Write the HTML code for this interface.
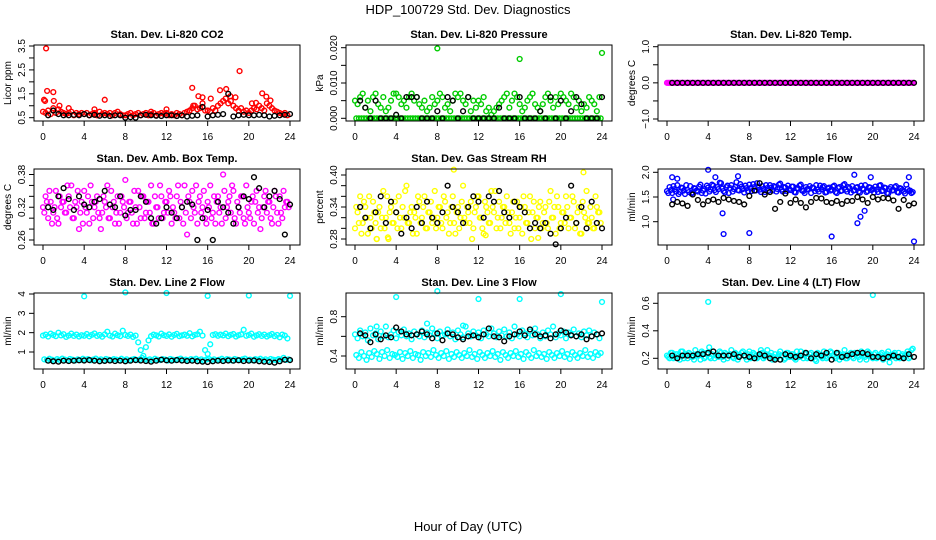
<!DOCTYPE html>
<html><head><meta charset="utf-8"><style>
html,body{margin:0;padding:0;background:#fff;}
svg{display:block;font-family:"Liberation Sans",Arial,sans-serif;}
</style></head><body>
<svg id="chart" width="936" height="540" viewBox="0 0 936 540" xmlns="http://www.w3.org/2000/svg">
<rect width="936" height="540" fill="#fff"/>
<text x="468" y="14" text-anchor="middle" font-size="13">HDP_100729  Std. Dev. Diagnostics</text>
<text x="468" y="531" text-anchor="middle" font-size="13">Hour of Day (UTC)</text>
</svg>
<script>
// ---------- data ----------
const xTicks=[0,4,8,12,16,20,24];
const co2Red=[0.75,0.7,0.8,0.65,0.9,0.7,0.85,0.75,0.7,0.65,0.7,0.75,0.6,0.7,0.65,0.7,0.65,0.7,0.6,0.65,0.7,0.6,0.75,0.65,0.7,0.65,0.7,0.6,0.7,0.75,0.65,0.6,0.6,0.65,0.7,0.6,0.65,0.7,0.6,0.65,0.7,0.6,0.65,0.7,0.6,0.65,0.7,0.65,0.7,0.6,0.65,0.6,0.7,0.65,0.6,0.7,0.75,0.8,0.9,1.0,0.85,0.9,1.1,0.8,0.8,0.75,0.9,0.8,1.0,1.1,1.2,1.3,1.1,1.2,1.0,0.9,0.8,0.9,0.75,0.8,0.7,0.8,0.9,0.85,1.0,0.9,0.8,1.1,1.0,0.9,0.8,0.75,0.7,0.65,0.7,0.6];
const co2ExtraHours=[0.3,0.1,0.2,0.4,1.0,1.05,6,14.5,14.6,15.1,15.5,16.3,17.2,17.8,18.2,18.7,19.1,20.3,20.7,21.3,21.7,22.1,5,10.5,12,2.5,1.6];
const co2ExtraValues=[3.4,1.25,1.2,1.62,1.57,1.2,1.25,1.75,1.0,1.4,1.35,1.3,1.65,1.7,1.4,1.35,2.45,1.1,1.12,1.52,1.38,1.22,0.85,0.75,0.85,0.9,1.0];
const co2Black=[0.6,0.8,0.65,0.6,0.6,0.62,0.6,0.65,0.6,0.62,0.58,0.6,0.57,0.6,0.6,0.5,0.52,0.5,0.6,0.62,0.6,0.58,0.57,0.6,0.6,0.57,0.6,0.55,0.58,0.6,0.95,0.55,0.6,0.62,0.65,1.5,0.55,0.6,0.62,0.6,0.6,0.62,0.6,0.55,0.58,0.6,0.62,0.65];

const presGreen=[0.005,0.004,0.006,0.007,0.003,0.005,0.002,0.006,0.007,0.004,0.003,0.006,0.002,0.003,0.005,0.007,0.007,0.006,0.004,0.005,0.003,0.006,0.007,0.005,0.006,0.004,0.003,0.005,0.002,0.003,0.006,0.004,0.005,0.007,0.006,0.003,0.004,0.002,0.005,0.007,0.006,0.007,0.005,0.004,0.006,0.002,0.005,0.003,0.005,0.004,0.006,0.002,0.003,0.001,0.002,0.003,0.004,0.005,0.006,0.007,0.003,0.005,0.007,0.006,0.004,0.002,0.003,0.005,0.006,0.007,0.004,0.003,0.002,0.004,0.006,0.007,0.005,0.003,0.006,0.004,0.007,0.006,0.005,0.004,0.007,0.006,0.003,0.005,0.002,0.004,0.003,0.006,0.005,0.004,0.002,0.006];
const presGreenLow=[0,0,0,0,0,0,0,0,0,0,0,0,0,0,0,0,0,0,0,0,0,0,0,0,0,0,0,0,0,0,0,0,0,0,0,0,0,0,0,0,0,0,0,0,0,0,0,0,0,0,0,0,0,0,0,0,0,0,0,0,0,0,0,0,0,0,0,0,0,0,0,0,0,0,0,0,0,0,0,0,0,0,0,0,0,0,0,0,0,0,0,0,0,0,0,0];
const presExtraHours=[8,16,24];
const presExtraValues=[0.0198,0.0168,0.0185];
const presBlack=[0.005,0.003,0,0.005,0,0,0,0.001,0,0.006,0.006,0.006,0,0,0,0.002,0,0.006,0.005,0,0.002,0.006,0,0,0,0,0,0.003,0,0,0,0.006,0,0,0,0.002,0,0.006,0,0.005,0,0.002,0.006,0.004,0,0,0,0.006];

const tempMagenta=[0,0,0,0,0,0,0,0,0,0,0,0,0,0,0,0,0,0,0,0,0,0,0,0,0,0,0,0,0,0,0,0,0,0,0,0,0,0,0,0,0,0,0,0,0,0,0,0,0,0,0,0,0,0,0,0,0,0,0,0,0,0,0,0,0,0,0,0,0,0,0,0,0,0,0,0,0,0,0,0,0,0,0,0,0,0,0,0,0,0,0,0,0,0,0,0];
const tempBlack=[0,0,0,0,0,0,0,0,0,0,0,0,0,0,0,0,0,0,0,0,0,0,0,0,0,0,0,0,0,0,0,0,0,0,0,0,0,0,0,0,0,0,0,0,0,0,0,0];

const ambA=[0.32,0.34,0.30,0.33,0.31,0.35,0.29,0.32,0.33,0.31,0.34,0.36,0.30,0.32,0.28,0.33,0.35,0.31,0.29,0.33,0.32,0.34,0.30,0.31,0.33,0.36,0.30,0.32,0.29,0.34,0.31,0.33,0.37,0.31,0.33,0.29,0.32,0.35,0.30,0.34,0.31,0.33,0.36,0.29,0.32,0.30,0.34,0.31,0.33,0.35,0.29,0.31,0.34,0.30,0.32,0.36,0.27,0.33,0.35,0.31,0.29,0.34,0.32,0.30,0.33,0.36,0.31,0.29,0.34,0.32,0.38,0.30,0.33,0.31,0.35,0.29,0.32,0.34,0.30,0.36,0.31,0.33,0.29,0.35,0.32,0.30,0.34,0.31,0.33,0.29,0.35,0.31,0.34,0.30,0.32,0.33];
const ambB=[0.31,0.33,0.35,0.29,0.32,0.30,0.34,0.33,0.31,0.36,0.32,0.30,0.33,0.35,0.31,0.29,0.32,0.34,0.36,0.30,0.33,0.31,0.28,0.34,0.32,0.30,0.35,0.33,0.31,0.29,0.34,0.32,0.30,0.33,0.31,0.35,0.29,0.32,0.34,0.30,0.33,0.31,0.29,0.34,0.32,0.36,0.30,0.33,0.31,0.34,0.32,0.30,0.36,0.33,0.29,0.31,0.34,0.30,0.32,0.36,0.33,0.31,0.35,0.29,0.32,0.30,0.34,0.33,0.31,0.29,0.35,0.32,0.34,0.36,0.30,0.33,0.31,0.34,0.29,0.32,0.30,0.34,0.33,0.31,0.28,0.32,0.35,0.33,0.30,0.32,0.34,0.29,0.31,0.35,0.33,0.32];
const ambBlack=[0.32,0.315,0.34,0.355,0.335,0.315,0.34,0.325,0.32,0.33,0.335,0.35,0.325,0.32,0.34,0.305,0.315,0.315,0.34,0.33,0.30,0.29,0.30,0.32,0.31,0.30,0.32,0.33,0.325,0.26,0.30,0.315,0.26,0.33,0.32,0.31,0.29,0.32,0.34,0.335,0.375,0.355,0.32,0.34,0.35,0.335,0.27,0.325];

const rhA=[0.30,0.33,0.36,0.31,0.34,0.29,0.32,0.35,0.31,0.33,0.30,0.37,0.32,0.28,0.34,0.31,0.33,0.36,0.30,0.32,0.38,0.31,0.34,0.33,0.29,0.35,0.32,0.36,0.30,0.33,0.31,0.37,0.32,0.34,0.30,0.35,0.33,0.31,0.36,0.29,0.34,0.32,0.38,0.31,0.33,0.35,0.30,0.34,0.36,0.32,0.29,0.34,0.31,0.37,0.33,0.30,0.35,0.32,0.34,0.36,0.31,0.33,0.30,0.35,0.32,0.29,0.34,0.31,0.36,0.33,0.30,0.32,0.35,0.31,0.34,0.30,0.37,0.32,0.29,0.34,0.31,0.33,0.36,0.30,0.32,0.35,0.31,0.34,0.29,0.33,0.37,0.31,0.32,0.30,0.34,0.33];
const rhB=[0.34,0.31,0.29,0.35,0.32,0.36,0.30,0.33,0.28,0.34,0.32,0.30,0.36,0.33,0.31,0.35,0.30,0.32,0.34,0.37,0.31,0.33,0.29,0.32,0.36,0.31,0.34,0.30,0.33,0.35,0.32,0.30,0.34,0.31,0.36,0.32,0.29,0.34,0.31,0.33,0.30,0.35,0.32,0.34,0.31,0.28,0.33,0.36,0.32,0.30,0.35,0.33,0.31,0.34,0.37,0.32,0.30,0.34,0.31,0.33,0.29,0.35,0.32,0.30,0.34,0.36,0.31,0.33,0.28,0.35,0.32,0.34,0.30,0.33,0.31,0.35,0.32,0.34,0.36,0.30,0.33,0.31,0.34,0.32,0.36,0.30,0.33,0.29,0.35,0.32,0.31,0.34,0.30,0.36,0.33,0.31];
const rhExtraHours=[9.6,22.2,2.1,3.2,17.8,12.7];
const rhExtraValues=[0.41,0.405,0.28,0.283,0.282,0.287];
const rhBlack=[0.34,0.32,0.30,0.33,0.36,0.31,0.35,0.33,0.29,0.32,0.30,0.34,0.31,0.35,0.32,0.31,0.33,0.38,0.34,0.33,0.31,0.34,0.36,0.35,0.32,0.36,0.35,0.37,0.33,0.32,0.35,0.34,0.33,0.30,0.31,0.30,0.31,0.29,0.27,0.30,0.32,0.38,0.31,0.34,0.30,0.35,0.31,0.30];

const flowA=[1.62,1.70,1.58,1.66,1.74,1.60,1.68,1.56,1.64,1.72,1.59,1.67,1.61,1.75,1.63,1.57,1.69,1.65,1.73,1.60,1.66,1.78,1.62,1.70,1.58,1.74,1.66,1.80,1.63,1.71,1.59,1.68,1.75,1.62,1.70,1.78,1.65,1.72,1.60,1.68,1.74,1.63,1.70,1.66,1.77,1.61,1.69,1.73,1.64,1.71,1.59,1.67,1.75,1.62,1.70,1.66,1.58,1.68,1.74,1.61,1.66,1.72,1.60,1.69,1.65,1.73,1.58,1.70,1.63,1.76,1.61,1.68,1.72,1.64,1.70,1.59,1.67,1.74,1.62,1.69,1.66,1.71,1.60,1.74,1.63,1.68,1.57,1.70,1.64,1.72,1.59,1.67,1.61,1.75,1.62,1.58];
const flowB=[1.58,1.64,1.72,1.61,1.56,1.69,1.63,1.74,1.60,1.57,1.68,1.63,1.71,1.58,1.66,1.73,1.61,1.75,1.64,1.70,1.79,1.67,1.59,1.73,1.68,1.61,1.70,1.64,1.76,1.66,1.73,1.62,1.68,1.76,1.63,1.71,1.60,1.66,1.74,1.63,1.69,1.72,1.61,1.75,1.65,1.70,1.62,1.66,1.71,1.60,1.68,1.73,1.63,1.58,1.66,1.72,1.69,1.62,1.65,1.73,1.70,1.59,1.67,1.63,1.71,1.60,1.68,1.62,1.74,1.65,1.70,1.59,1.63,1.69,1.61,1.73,1.66,1.60,1.70,1.64,1.59,1.65,1.73,1.62,1.69,1.58,1.66,1.63,1.70,1.60,1.68,1.64,1.57,1.66,1.63,1.60];
const flowExtraHours=[4,5.5,5.4,8,16,18.5,18.8,19.2,24,0.5,4.7,18.2,19.8,23.5,6.9,0.6,1.0];
const flowExtraValues=[2.05,0.75,1.17,0.77,0.7,0.97,1.1,1.22,0.6,1.9,1.9,1.95,1.9,1.9,1.92,1.45,1.87];
const flowBlack=[1.35,1.40,1.37,1.32,1.55,1.44,1.35,1.42,1.45,1.40,1.48,1.45,1.42,1.40,1.35,1.52,1.63,1.78,1.55,1.60,1.26,1.40,1.57,1.38,1.45,1.38,1.29,1.40,1.48,1.47,1.40,1.38,1.42,1.36,1.42,1.42,1.50,1.45,1.38,1.50,1.45,1.48,1.47,1.43,1.26,1.44,1.33,1.37];

const l2Upper=[1.85,1.90,1.80,1.95,1.88,1.82,2.00,1.86,1.92,1.78,1.85,1.95,1.83,1.90,1.80,1.87,1.84,1.93,1.81,1.89,1.96,1.83,1.88,1.79,1.91,2.05,1.85,1.80,1.95,1.87,1.82,2.10,1.88,1.83,1.90,1.78,1.85,1.50,1.10,0.80,1.25,1.60,1.82,1.90,1.86,1.80,1.95,1.87,1.83,1.91,1.79,1.88,1.94,1.82,1.86,1.90,1.84,1.97,1.81,1.88,1.92,2.05,1.85,1.10,0.90,1.40,1.88,1.92,1.84,1.90,1.86,1.95,1.82,1.89,1.93,1.80,1.87,1.91,2.15,1.84,1.88,1.95,1.79,1.86,1.92,1.83,1.90,1.80,1.87,1.93,1.82,1.88,1.76,1.90,1.85,1.70];
const l2Lower=[0.62,0.58,0.65,0.60,0.55,0.63,0.59,0.66,0.61,0.57,0.64,0.60,0.56,0.62,0.58,0.65,0.60,0.63,0.57,0.61,0.66,0.59,0.62,0.56,0.64,0.60,0.58,0.63,0.61,0.57,0.65,0.59,0.62,0.56,0.60,0.64,0.58,0.61,0.70,0.63,0.59,0.62,0.57,0.65,0.60,0.58,0.63,0.61,0.56,0.64,0.60,0.58,0.62,0.66,0.59,0.61,0.57,0.63,0.60,0.65,0.58,0.62,0.56,0.61,0.64,0.59,0.62,0.57,0.60,0.65,0.58,0.63,0.61,0.56,0.64,0.60,0.58,0.62,0.66,0.59,0.61,0.57,0.63,0.60,0.65,0.58,0.62,0.56,0.64,0.60,0.58,0.63,0.61,0.70,0.59,0.62];
const l2ExtraHours=[4,8,12,16,20,24];
const l2ExtraValues=[3.88,4.08,4.05,3.9,3.92,3.9];
const l2Black=[0.55,0.52,0.50,0.55,0.53,0.55,0.57,0.56,0.58,0.55,0.52,0.54,0.56,0.53,0.55,0.52,0.55,0.58,0.56,0.53,0.50,0.55,0.60,0.57,0.55,0.58,0.56,0.53,0.55,0.52,0.50,0.48,0.52,0.55,0.53,0.56,0.55,0.57,0.53,0.55,0.56,0.52,0.50,0.48,0.45,0.52,0.60,0.58];

const l3Upper=[0.62,0.58,0.66,0.60,0.64,0.56,0.68,0.61,0.63,0.57,0.65,0.60,0.70,0.59,0.62,0.66,0.58,0.64,0.61,0.67,0.60,0.63,0.57,0.65,0.62,0.60,0.66,0.59,0.64,0.61,0.68,0.63,0.58,0.65,0.61,0.62,0.67,0.60,0.64,0.57,0.66,0.62,0.59,0.70,0.63,0.60,0.65,0.61,0.64,0.58,0.66,0.62,0.60,0.68,0.63,0.59,0.65,0.61,0.67,0.60,0.64,0.58,0.70,0.62,0.60,0.66,0.63,0.59,0.65,0.61,0.68,0.62,0.58,0.64,0.60,0.66,0.62,0.70,0.59,0.63,0.61,0.65,0.58,0.64,0.62,0.67,0.60,0.63,0.59,0.65,0.61,0.66,0.60,0.64,0.62,0.58];
const l3Lower=[0.41,0.38,0.44,0.40,0.36,0.43,0.39,0.45,0.42,0.37,0.44,0.40,0.46,0.38,0.42,0.41,0.39,0.44,0.37,0.43,0.40,0.45,0.38,0.42,0.41,0.36,0.44,0.40,0.43,0.39,0.46,0.41,0.38,0.43,0.40,0.45,0.37,0.42,0.39,0.44,0.41,0.38,0.43,0.40,0.46,0.39,0.42,0.37,0.44,0.41,0.38,0.43,0.40,0.45,0.39,0.42,0.36,0.44,0.41,0.38,0.43,0.40,0.45,0.39,0.42,0.37,0.44,0.41,0.38,0.46,0.40,0.43,0.39,0.42,0.37,0.44,0.41,0.38,0.43,0.40,0.45,0.39,0.42,0.37,0.44,0.41,0.38,0.43,0.40,0.46,0.39,0.42,0.38,0.44,0.41,0.43];
const l3ExtraHours=[4,8,12,16,20,24,7,2.1,10.5];
const l3ExtraValues=[1.0,1.06,0.98,0.98,1.03,0.95,0.73,0.70,0.71];
const l3Black=[0.63,0.61,0.54,0.62,0.57,0.61,0.59,0.69,0.65,0.62,0.61,0.62,0.65,0.62,0.58,0.63,0.56,0.63,0.62,0.59,0.57,0.60,0.61,0.59,0.62,0.68,0.60,0.59,0.55,0.60,0.62,0.65,0.61,0.67,0.62,0.60,0.61,0.58,0.62,0.66,0.64,0.61,0.60,0.62,0.57,0.60,0.62,0.63];

const l4A=[0.22,0.20,0.24,0.21,0.23,0.19,0.25,0.22,0.20,0.23,0.21,0.26,0.22,0.19,0.24,0.21,0.23,0.20,0.25,0.22,0.21,0.24,0.19,0.23,0.22,0.26,0.20,0.23,0.21,0.24,0.22,0.19,0.25,0.21,0.23,0.20,0.22,0.24,0.21,0.26,0.22,0.19,0.23,0.21,0.25,0.22,0.20,0.24,0.21,0.23,0.19,0.22,0.25,0.20,0.23,0.21,0.24,0.22,0.18,0.23,0.21,0.25,0.20,0.22,0.24,0.21,0.23,0.19,0.22,0.26,0.20,0.23,0.21,0.24,0.22,0.19,0.23,0.21,0.25,0.22,0.20,0.24,0.21,0.23,0.19,0.22,0.25,0.21,0.23,0.20,0.24,0.22,0.21,0.23,0.20,0.26];
const l4B=[0.21,0.24,0.20,0.23,0.22,0.25,0.20,0.23,0.24,0.21,0.19,0.23,0.22,0.25,0.20,0.24,0.21,0.23,0.20,0.22,0.25,0.21,0.24,0.20,0.23,0.21,0.24,0.19,0.22,0.25,0.21,0.23,0.20,0.24,0.22,0.21,0.26,0.20,0.23,0.22,0.24,0.21,0.20,0.23,0.22,0.19,0.24,0.21,0.23,0.20,0.25,0.21,0.22,0.24,0.20,0.23,0.21,0.19,0.24,0.22,0.20,0.23,0.21,0.25,0.22,0.20,0.24,0.21,0.23,0.20,0.22,0.24,0.20,0.23,0.21,0.25,0.22,0.19,0.24,0.21,0.23,0.20,0.22,0.24,0.21,0.23,0.17,0.22,0.24,0.21,0.20,0.23,0.22,0.25,0.21,0.27];
const l4ExtraHours=[4,12,20,4.1];
const l4ExtraValues=[0.61,0.69,0.66,0.28];
const l4Black=[0.22,0.20,0.22,0.22,0.22,0.23,0.23,0.24,0.25,0.22,0.22,0.22,0.23,0.21,0.22,0.21,0.20,0.23,0.22,0.20,0.19,0.19,0.23,0.22,0.21,0.22,0.24,0.20,0.23,0.22,0.24,0.19,0.24,0.21,0.22,0.23,0.24,0.24,0.23,0.21,0.21,0.20,0.21,0.22,0.21,0.20,0.23,0.21];

// tick arrays
const co2Ticks=[0.5,1.0,1.5,2.0,2.5,3.0,3.5], co2Labels=["0.5","1.5","2.5","3.5"];
const presTicks=[0,0.005,0.01,0.015,0.02], presLabels=["0.000","0.010","0.020"];
const tempTicks=[-1,-0.5,0,0.5,1], tempLabels=["-1.0","0.0","1.0"];
const ambTicks=[0.26,0.28,0.30,0.32,0.34,0.36,0.38], ambLabels=["0.26","0.32","0.38"];
const rhTicks=[0.28,0.30,0.32,0.34,0.36,0.38,0.40], rhLabels=["0.28","0.34","0.40"];
const flowTicks=[1.0,1.5,2.0], flowLabels=["1.0","1.5","2.0"];
const l2Ticks=[1,2,3,4], l2Labels=["1","2","3","4"];
const l3Ticks=[0.4,0.6,0.8], l3Labels=["0.4","0.8"];
const l4Ticks=[0.2,0.4,0.6], l4Labels=["0.2","0.4","0.6"];

// ---------- drawing ----------
const NS="http://www.w3.org/2000/svg";
const svg=document.getElementById('chart');
function mk(tag,attrs,parent){const e=document.createElementNS(NS,tag);for(const k in attrs)e.setAttribute(k,attrs[k]);(parent||svg).appendChild(e);return e;}
const colLeft=[34,346,658], rowTop=[45,169,293], W=266, H=76;

function panel(o){
  const L=colLeft[o.col], T=rowTop[o.row], B=T+H;
  const g=mk('g',{});
  
  
  const xs=h=>L+9+h*(247/24);
  const ys=v=>o.p0+(v-o.v0)*(o.p1-o.p0)/(o.v1-o.v0);
  const t=mk('text',{x:L+W/2,y:T-7,'text-anchor':'middle','font-size':'11','font-weight':'bold'},g);
  t.textContent=o.title;
  
  
  // x axis
  const xa=mk('g',{},g);
  
  
  mk('line',{x1:xs(xTicks[0]),x2:xs(xTicks[xTicks.length-1]),y1:B,y2:B,stroke:'#000'},xa);
  xTicks.forEach(v=>{
    mk('line',{x1:xs(v),x2:xs(v),y1:B,y2:B+5,stroke:'#000'},xa);
    const tl=mk('text',{x:xs(v),y:B+19,'text-anchor':'middle','font-size':'10'},xa);
    tl.textContent=v;
  });
  // y axis
  const ya=mk('g',{},g);
  
  
  o.ticks.forEach(v=>{mk('line',{x1:L-5,x2:L,y1:ys(v),y2:ys(v),stroke:'#000'},ya);});
  o.labels.forEach(s=>{
    const yy=ys(parseFloat(s));
    const tl=mk('text',{x:L-9,y:yy,'text-anchor':'middle','font-size':'10',transform:`rotate(-90 ${L-9} ${yy})`},ya);
    tl.textContent=s.replace('-','\u2212');
  });
  const yt=mk('text',{x:L-23,y:(T+B)/2,'text-anchor':'middle','font-size':'10',transform:`rotate(-90 ${L-23} ${(T+B)/2})`},g);
  yt.textContent=o.ylab;
  
  
  // points
  const pts=mk('g',{fill:'none','stroke-width':'1.4'},g);
  
  
  function dot(h,v,c){
    const y=ys(v); if(y<T-2||y>B+2)return;
    const cc=mk('circle',{cx:xs(h),cy:y,r:2.4,stroke:c},pts);
  }
  (o.colA||[]).forEach((v,i)=>dot(i*0.25,v,o.color));
  (o.colB||[]).forEach((v,i)=>dot(i*0.25+0.125,v,o.color));
  (o.exH||[]).forEach((h,i)=>dot(h,o.exV[i],o.color));
  (o.black||[]).forEach((v,i)=>dot((i+1)*0.5,v,'#000'));
  const box=mk('rect',{x:L,y:T,width:W,height:H,fill:'none',stroke:'#000'},g);
  
  
}

panel({name:'co2',col:0,row:0,title:'Stan. Dev. Li-820 CO2',ylab:'Licor ppm',v0:0.5,p0:117.7,v1:3.5,p1:46,ticks:co2Ticks,labels:co2Labels,color:'#FF0000',colA:co2Red,exH:co2ExtraHours,exV:co2ExtraValues,black:co2Black});
panel({name:'pressure',col:1,row:0,title:'Stan. Dev. Li-820 Pressure',ylab:'kPa',v0:0,p0:118.3,v1:0.02,p1:47.7,ticks:presTicks,labels:presLabels,color:'#00CC00',colA:presGreen,colB:presGreenLow,exH:presExtraHours,exV:presExtraValues,black:presBlack});
panel({name:'li820-temp',col:2,row:0,title:'Stan. Dev. Li-820 Temp.',ylab:'degrees C',v0:-1,p0:119,v1:1,p1:46.7,ticks:tempTicks,labels:tempLabels,color:'#FF00FF',colA:tempMagenta,colB:tempMagenta,black:tempBlack});
panel({name:'amb-box-temp',col:0,row:1,title:'Stan. Dev. Amb. Box Temp.',ylab:'degrees C',v0:0.26,p0:240,v1:0.38,p1:174.5,ticks:ambTicks,labels:ambLabels,color:'#FF00FF',colA:ambA,colB:ambB,black:ambBlack});
panel({name:'gas-stream-rh',col:1,row:1,title:'Stan. Dev. Gas Stream RH',ylab:'percent',v0:0.28,p0:239,v1:0.40,p1:175,ticks:rhTicks,labels:rhLabels,color:'#FFFF00',colA:rhA,colB:rhB,exH:rhExtraHours,exV:rhExtraValues,black:rhBlack});
panel({name:'sample-flow',col:2,row:1,title:'Stan. Dev. Sample Flow',ylab:'ml/min',v0:1.0,p0:221.7,v1:2.0,p1:172.3,ticks:flowTicks,labels:flowLabels,color:'#0000FF',colA:flowA,colB:flowB,exH:flowExtraHours,exV:flowExtraValues,black:flowBlack});
panel({name:'line2-flow',col:0,row:2,title:'Stan. Dev. Line 2 Flow',ylab:'ml/min',v0:1,p0:352,v1:4,p1:294,ticks:l2Ticks,labels:l2Labels,color:'#00FFFF',colA:l2Upper,colB:l2Lower,exH:l2ExtraHours,exV:l2ExtraValues,black:l2Black});
panel({name:'line3-flow',col:1,row:2,title:'Stan. Dev. Line 3 Flow',ylab:'ml/min',v0:0.4,p0:356,v1:0.8,p1:316.7,ticks:l3Ticks,labels:l3Labels,color:'#00FFFF',colA:l3Upper,colB:l3Lower,exH:l3ExtraHours,exV:l3ExtraValues,black:l3Black});
panel({name:'line4-flow',col:2,row:2,title:'Stan. Dev. Line 4 (LT) Flow',ylab:'ml/min',v0:0.2,p0:358.3,v1:0.6,p1:303.3,ticks:l4Ticks,labels:l4Labels,color:'#00FFFF',colA:l4A,colB:l4B,exH:l4ExtraHours,exV:l4ExtraValues,black:l4Black});
</script>
</body></html>
